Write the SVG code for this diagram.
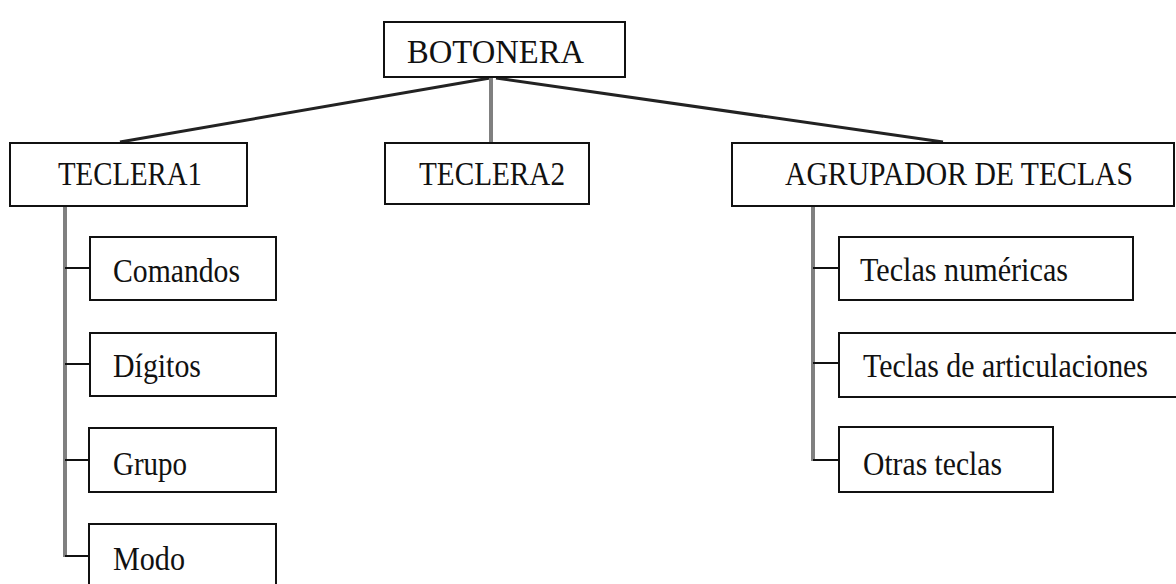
<svg xmlns="http://www.w3.org/2000/svg" width="1176" height="584" viewBox="0 0 1176 584">
<style>
.box{fill:#fff;stroke:#111;stroke-width:2}
.t{font-family:"Liberation Serif","Times New Roman",serif;font-size:33px;fill:#111}
.diag{stroke:#222;stroke-width:3;fill:none}
.spine{stroke:#808080;stroke-width:4;fill:none}
.tick{stroke:#111;stroke-width:2;fill:none}
</style>
<rect width="1176" height="584" fill="#fff"/>
<g id="connectors">
<line class="diag" x1="490" y1="78" x2="120" y2="142"/>
<line class="diag" x1="496" y1="78" x2="943" y2="142"/>
<line class="spine" x1="491" y1="78" x2="491" y2="143"/>
<line class="spine" x1="65" y1="206" x2="65" y2="557"/>
<line class="tick" x1="65" y1="268" x2="90" y2="268"/>
<line class="tick" x1="65" y1="364" x2="90" y2="364"/>
<line class="tick" x1="65" y1="460" x2="90" y2="460"/>
<line class="tick" x1="65" y1="556" x2="90" y2="556"/>
<line class="spine" x1="813" y1="206" x2="813" y2="461"/>
<line class="tick" x1="813" y1="268" x2="839" y2="268"/>
<line class="tick" x1="813" y1="363" x2="839" y2="363"/>
<line class="tick" x1="813" y1="460" x2="839" y2="460"/>
</g>
<g id="botonera"><rect class="box" x="384" y="22" width="241" height="55"/><text class="t" x="407" y="63" font-size="37" textLength="177" lengthAdjust="spacingAndGlyphs">BOTONERA</text></g>
<g id="teclera1"><rect class="box" x="10" y="143" width="237" height="63"/><text class="t" x="58" y="185" textLength="144" lengthAdjust="spacingAndGlyphs">TECLERA1</text></g>
<g id="teclera2"><rect class="box" x="385" y="143" width="204" height="61"/><text class="t" x="419" y="185" textLength="146" lengthAdjust="spacingAndGlyphs">TECLERA2</text></g>
<g id="agrupador"><rect class="box" x="732" y="143" width="442" height="63"/><text class="t" x="785" y="185" textLength="348" lengthAdjust="spacingAndGlyphs">AGRUPADOR DE TECLAS</text></g>
<g id="comandos"><rect class="box" x="90" y="237" width="186" height="63"/><text class="t" x="113" y="282" textLength="127" lengthAdjust="spacingAndGlyphs">Comandos</text></g>
<g id="digitos"><rect class="box" x="90" y="333" width="186" height="63"/><text class="t" x="113" y="377" textLength="88" lengthAdjust="spacingAndGlyphs">Dígitos</text></g>
<g id="grupo"><rect class="box" x="89" y="428" width="187" height="64"/><text class="t" x="113" y="475" textLength="74" lengthAdjust="spacingAndGlyphs">Grupo</text></g>
<g id="modo"><rect class="box" x="89" y="524" width="187" height="64"/><text class="t" x="113" y="570" textLength="72" lengthAdjust="spacingAndGlyphs">Modo</text></g>
<g id="teclas-numericas"><rect class="box" x="839" y="237" width="294" height="63"/><text class="t" x="860" y="281" textLength="208" lengthAdjust="spacingAndGlyphs">Teclas numéricas</text></g>
<g id="teclas-articulaciones"><rect class="box" x="839" y="333" width="340" height="64"/><text class="t" x="863" y="377" textLength="285" lengthAdjust="spacingAndGlyphs">Teclas de articulaciones</text></g>
<g id="otras-teclas"><rect class="box" x="839" y="427" width="214" height="65"/><text class="t" x="863" y="475" textLength="139" lengthAdjust="spacingAndGlyphs">Otras teclas</text></g>
</svg>
